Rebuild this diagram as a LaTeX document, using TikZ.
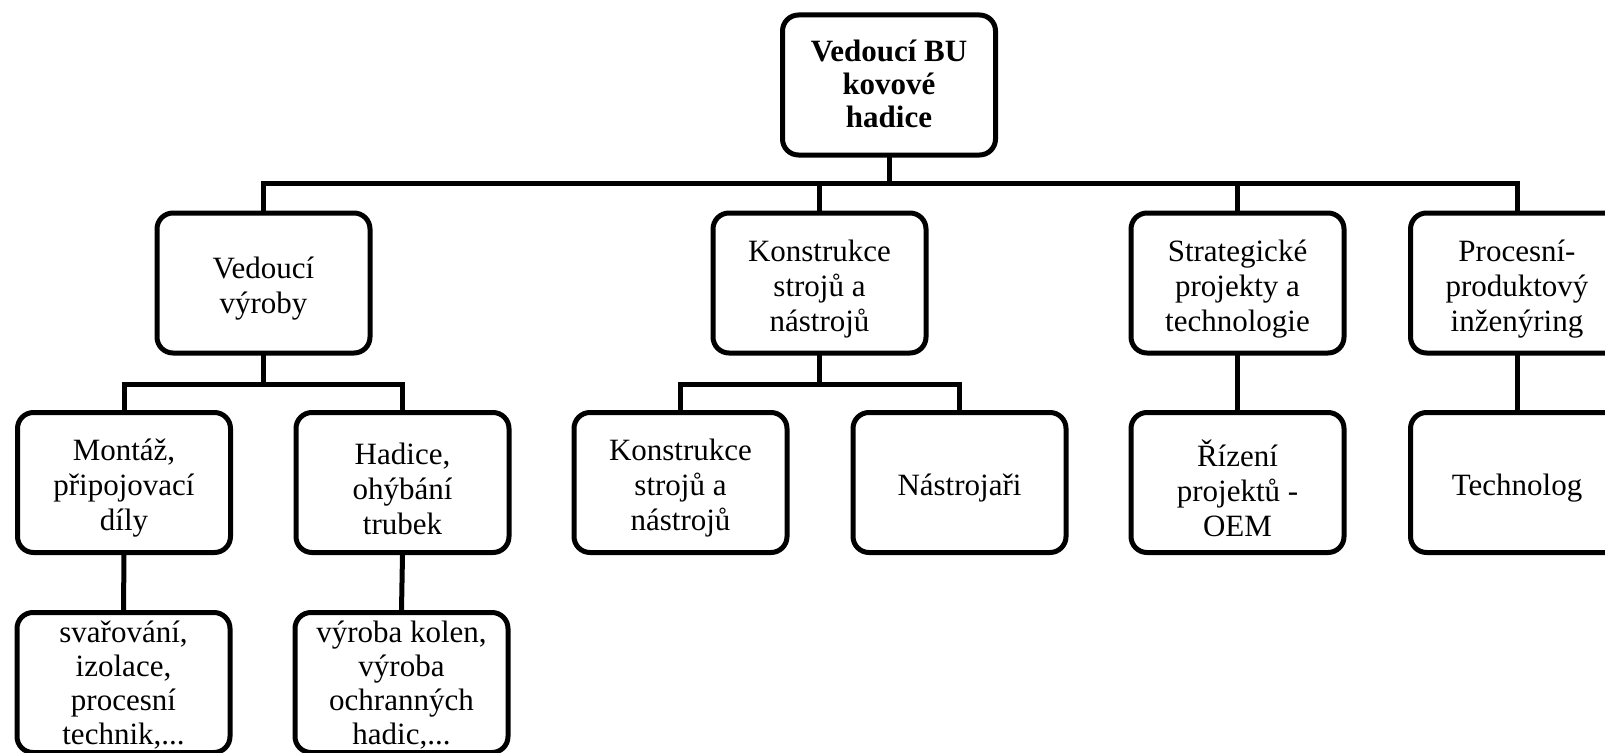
\documentclass[tikz,border=0pt]{standalone}
\usepackage{fontspec}
\setmainfont{Liberation Serif}
\begin{document}
\begin{tikzpicture}[x=1pt,y=-1pt,
  orgbox/.style={draw, line width=5pt, rounded corners=16pt, minimum width=213pt, minimum height=140pt, inner sep=0pt},
  txt/.style={align=center, font=\fontsize{31}{35}\selectfont, inner sep=0pt},
  conn/.style={line width=5pt, line cap=rect}]
\useasboundingbox (0,0) rectangle (1605,752);
\node[orgbox] (top) at (889,85) {};
\node[txt, font=\fontsize{31}{33}\selectfont\bfseries] (top-t) at ([yshift=1]top.center) {Vedoucí BU\\kovové\\hadice};
% level 2
\node[orgbox] (vv) at (263.5,283) {};
\node[orgbox] (ks) at (819.5,283) {};
\node[orgbox] (sp) at (1237.5,283) {};
\node[orgbox] (pp) at (1517,283) {};
\node[txt] (vv-t) at ([yshift=-6]vv.center) {Vedoucí\\výroby};
\node[txt] (ks-t) at ([yshift=-6]ks.center) {Konstrukce\\strojů a\\nástrojů};
\node[txt] (sp-t) at ([yshift=-6]sp.center) {Strategické\\projekty a\\technologie};
\node[txt] (pp-t) at ([yshift=-6]pp.center) {Procesní-\\produktový\\inženýring};
% level 3
\node[orgbox] (mo) at (124,482.5) {};
\node[orgbox] (ha) at (402.5,482.5) {};
\node[orgbox] (k3) at (680.5,482.5) {};
\node[orgbox] (na) at (959.5,482.5) {};
\node[orgbox] (ri) at (1237.5,482.5) {};
\node[orgbox] (te) at (1517,482.5) {};
\node[txt] (mo-t) at ([yshift=-6]mo.center) {Montáž,\\připojovací\\díly};
\node[txt] (ha-t) at ([yshift=-6]ha.center) {Hadice,\\ohýbání\\trubek};
\node[txt] (k3-t) at ([yshift=-6]k3.center) {Konstrukce\\strojů a\\nástrojů};
\node[txt] (na-t) at ([yshift=-6]na.center) {Nástrojaři};
\node[txt] (ri-t) at ([yshift=-6]ri.center) {Řízení\\projektů -\\OEM};
\node[txt] (te-t) at ([yshift=-6]te.center) {Technolog};
% level 4
\node[orgbox] (sv) at (123.5,682.5) {};
\node[orgbox] (vk) at (401.5,682.5) {};
\node[txt, font=\fontsize{31}{34}\selectfont] (sv-t) at ([yshift=-3]sv.center) {svařování,\\izolace,\\procesní\\technik,...};
\node[txt, font=\fontsize{31}{34}\selectfont] (vk-t) at ([yshift=-3]vk.center) {výroba kolen,\\výroba\\ochranných\\hadic,...};
% connectors
\coordinate (bar) at (0,183);
\coordinate (bar2) at (0,384);
\draw[conn] (top.south) -- (top.south |- bar);
\draw[conn] (vv.north) -- (vv.north |- bar) -| (pp.north);
\draw[conn] (ks.north) -- (ks.north |- bar);
\draw[conn] (sp.north) -- (sp.north |- bar);
\draw[conn] (vv.south) -- (vv.south |- bar2);
\draw[conn] (mo.north) -- (mo.north |- bar2) -| (ha.north);
\draw[conn] (ks.south) -- (ks.south |- bar2);
\draw[conn] (k3.north) -- (k3.north |- bar2) -| (na.north);
\draw[conn] (sp.south) -- (ri.north);
\draw[conn] (pp.south) -- (te.north);
\draw[conn] (mo.south) -- (sv.north);
\draw[conn] (ha.south) -- (vk.north);
\end{tikzpicture}
\end{document}
